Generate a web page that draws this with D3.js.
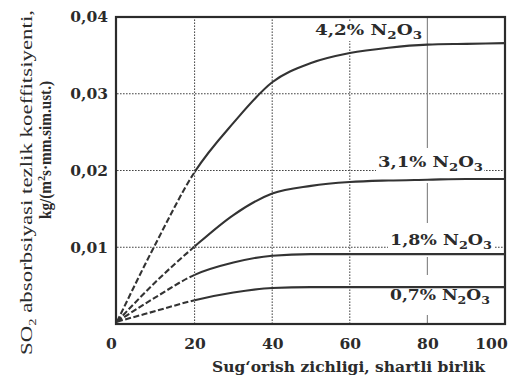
<!DOCTYPE html>
<html><head><meta charset="utf-8">
<script src="https://cdn.jsdelivr.net/npm/d3@7"></script>
<style>body{margin:0;background:#fff}</style>
</head><body>
<svg id="c" width="527" height="385"></svg>
<script>
// ---- data ----
const xTicks = [0, 20, 40, 60, 80, 100];
const xTickLabels = ["0", "20", "40", "60", "80", "100"];
const yTicks = [0.01, 0.02, 0.03, 0.04];
const yTickLabels = ["0,01", "0,02", "0,03", "0,04"];
const xs = [0, 10, 20, 30, 40, 50, 60, 70, 80, 90, 100];
const s42 = [0.0003, 0.0105, 0.0198, 0.0262, 0.0315, 0.0340, 0.0353, 0.0360, 0.0364, 0.0365, 0.0366];
const s31 = [0.0003, 0.0055, 0.0101, 0.0142, 0.0170, 0.0180, 0.0185, 0.0187, 0.0188, 0.0189, 0.0189];
const s18 = [0.0003, 0.0035, 0.0064, 0.0080, 0.0089, 0.0091, 0.0091, 0.0091, 0.0091, 0.0091, 0.0091];
const s07 = [0.0003, 0.0017, 0.0031, 0.0041, 0.0047, 0.0048, 0.0048, 0.0048, 0.0048, 0.0048, 0.0048];
const seriesNames = ["4,2%", "3,1%", "1,8%", "0,7%"];
const dashedUntil = 20;

// ---- layout ----
const svg = d3.select("#c");
svg.append("rect").attr("width", 527).attr("height", 385).attr("fill", "#fff");
const x = d3.scaleLinear().domain([0, 100]).range([117, 505]);
const y = d3.scaleLinear().domain([0, 0.04]).range([324, 17]);
const ink = "#2b2b2b";

// grid
const grid = svg.append("g");
grid.selectAll("line.v").data(xTicks.filter(d => d > 0 && d < 80)).enter().append("line")
  .attr("x1", d => x(d)).attr("x2", d => x(d)).attr("y1", y(0)).attr("y2", y(0.04))
  .attr("stroke", "#444").attr("stroke-width", 1).attr("stroke-dasharray", "1.6,1.4");
grid.selectAll("line.h").data(yTicks.filter(d => d < 0.04)).enter().append("line")
  .attr("y1", d => y(d)).attr("y2", d => y(d)).attr("x1", x(0)).attr("x2", x(100))
  .attr("stroke", "#444").attr("stroke-width", 1).attr("stroke-dasharray", "1.6,1.4");
grid.append("line").attr("x1", x(80)).attr("x2", x(80)).attr("y1", y(0)).attr("y2", y(0.04))
  .attr("stroke", "#8a8a8a").attr("stroke-width", 1.2);

// label backgrounds + labels
const labLayout = [
  {x: 315, y: 35, len: 107, bx: 313, by: 22, bw: 111, bh: 19},
  {x: 378, y: 167, len: 105, bx: 376, by: 148, bw: 108, bh: 35},
  {x: 390, y: 245, len: 102, bx: 388, by: 223, bw: 106, bh: 34},
  {x: 390, y: 300, len: 100, bx: 388, by: 275, bw: 104, bh: 40}
];
const labs = svg.append("g");
seriesNames.forEach((n, i) => {
  const L = labLayout[i];
  labs.append("rect").attr("x", L.bx).attr("y", L.by).attr("width", L.bw).attr("height", L.bh).attr("fill", "#fff");
});
seriesNames.forEach((n, i) => {
  const L = labLayout[i];
  const t = labs.append("text").attr("x", L.x).attr("y", L.y)
    .attr("textLength", L.len).attr("lengthAdjust", "spacingAndGlyphs")
    .attr("font-family", "DejaVu Serif").attr("font-weight", "bold").attr("font-size", 15).attr("fill", ink);
  t.append("tspan").text(n + " N");
  t.append("tspan").attr("font-size", 11).attr("dy", 4).text("2");
  t.append("tspan").attr("dy", -4).text("O");
  t.append("tspan").attr("font-size", 11).attr("dy", 4).text("3");
});

// frame
svg.append("rect").attr("x", x(0) - 1).attr("y", y(0.04)).attr("width", x(100) - x(0) + 1).attr("height", y(0) - y(0.04))
  .attr("fill", "none").attr("stroke", ink).attr("stroke-width", 2.2);

// curves
const defs = svg.append("defs");
defs.append("clipPath").attr("id", "cd").append("rect")
  .attr("x", 0).attr("y", 0).attr("width", x(dashedUntil)).attr("height", 385);
defs.append("clipPath").attr("id", "cs").append("rect")
  .attr("x", x(dashedUntil)).attr("y", 0).attr("width", 527 - x(dashedUntil)).attr("height", 385);
const line = d3.line().x(d => x(d[0])).y(d => y(d[1])).curve(d3.curveMonotoneX);
[s42, s31, s18, s07].forEach(s => {
  const pts = xs.map((v, i) => [v, s[i]]);
  svg.append("path").attr("d", line(pts)).attr("fill", "none").attr("stroke", "#333")
    .attr("stroke-width", 2.1).attr("stroke-dasharray", "6,2.5").attr("clip-path", "url(#cd)");
  svg.append("path").attr("d", line(pts)).attr("fill", "none").attr("stroke", "#333")
    .attr("stroke-width", 2.1).attr("clip-path", "url(#cs)");
});

// axes
const xa = svg.append("g").attr("transform", `translate(0,${y(0)})`)
  .call(d3.axisBottom(x).tickValues(xTicks).tickSize(0).tickPadding(14).tickFormat((d, i) => xTickLabels[i]));
const ya = svg.append("g").attr("transform", `translate(${x(0)},0)`)
  .call(d3.axisLeft(y).tickValues(yTicks).tickSize(0).tickPadding(9).tickFormat((d, i) => yTickLabels[i]));
[xa, ya].forEach(a => {
  a.select(".domain").remove();
  a.selectAll("text").attr("font-family", "DejaVu Serif").attr("font-weight", "bold")
    .attr("font-size", 15.5).attr("fill", ink);
});
xa.selectAll("text").attr("dx", (d, i) => i === 0 ? -6 : (i === xTicks.length - 1 ? -14 : 0));

// axis titles
svg.append("text").attr("x", 212).attr("y", 372).attr("textLength", 273).attr("lengthAdjust", "spacingAndGlyphs")
  .attr("font-family", "DejaVu Serif").attr("font-weight", "bold").attr("font-size", 14.5).attr("fill", ink)
  .text("Sug‘orish zichligi, shartli birlik");
const yt1 = svg.append("text").attr("transform", "translate(32,355) rotate(-90)")
  .attr("textLength", 345).attr("lengthAdjust", "spacingAndGlyphs")
  .attr("font-family", "Liberation Serif").attr("font-size", 17.5).attr("fill", ink);
yt1.append("tspan").text("SO");
yt1.append("tspan").attr("font-size", 11).attr("dy", 4).text("2");
yt1.append("tspan").attr("dy", -4).text(" absorbsiyasi tezlik koeffitsiyenti,");
const yt2 = svg.append("text").attr("transform", "translate(51,219) rotate(-90)")
  .attr("textLength", 138).attr("lengthAdjust", "spacingAndGlyphs")
  .attr("font-family", "Liberation Serif").attr("font-weight", "bold").attr("font-size", 16.5).attr("fill", ink);
yt2.append("tspan").text("kg/(m");
yt2.append("tspan").attr("font-size", 11).attr("dy", -6).text("2");
yt2.append("tspan").attr("dy", 6).text("s·mm.sim.ust.)");
</script>
</body></html>
